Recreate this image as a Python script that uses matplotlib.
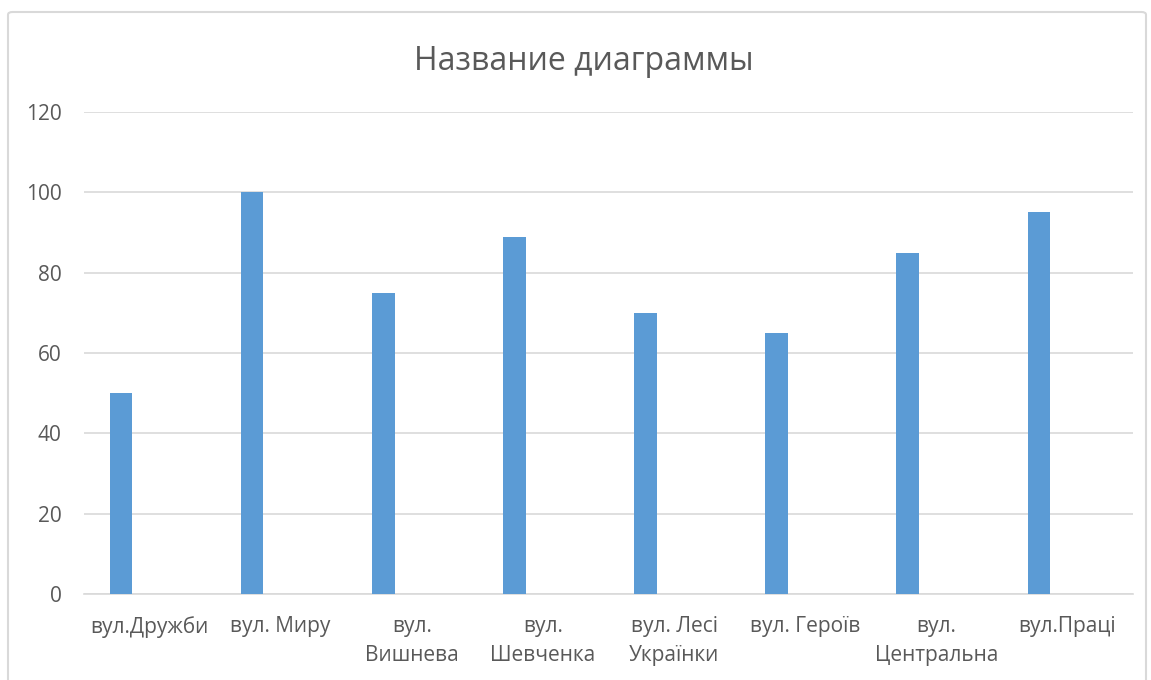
import matplotlib.pyplot as plt
import numpy as np
from matplotlib.patches import FancyBboxPatch

streets = ['вул.Дружби', 'вул. Миру', 'вул.\nВишнева', 'вул.\nШевченка',
           'вул. Лесі\nУкраїнки', 'вул. Героїв', 'вул.\nЦентральна', 'вул.Праці']
values = [50, 100, 75, 89, 70, 65, 85, 95]
y_ticks = [0, 20, 40, 60, 80, 100, 120]

text_color = '#595959'
grid_color = '#d9d9d9'
bar_color = '#5b9bd5'

plt.rcParams['font.family'] = ['Open Sans', 'DejaVu Sans']

fig = plt.figure(figsize=(11.51, 6.80), dpi=100)
fig.patch.set_facecolor('white')

# chart border (Excel style frame)
frame = FancyBboxPatch((8 / 1151, -0.05), 1138 / 1151, 1 - 12 / 680 + 0.05,
                       boxstyle='round,pad=0,rounding_size=0.004',
                       transform=fig.transFigure, facecolor='none',
                       edgecolor=grid_color, linewidth=1.5)
fig.patches.append(frame)

ax = fig.add_axes([84 / 1151, 1 - 594 / 680, (1133 - 84) / 1151, (594 - 112) / 680])

x = np.arange(len(streets))
ax.bar(x - 0.218, values, width=0.172, color=bar_color, zorder=3)

ax.set_xlim(-0.5, len(streets) - 0.5)
ax.set_ylim(0, 120)
ax.set_yticks(y_ticks)
ax.set_xticks(x)
ax.set_xticklabels(streets, linespacing=1.5)
ax.tick_params(axis='both', length=0, labelsize=15, colors=text_color)
ax.tick_params(axis='x', pad=16)
ax.tick_params(axis='y', pad=16)

ax.grid(axis='y', color=grid_color, linewidth=1.2, zorder=0)
for s in ['top', 'right', 'left']:
    ax.spines[s].set_visible(False)
ax.spines['bottom'].set_color(grid_color)
ax.spines['bottom'].set_linewidth(1.2)

fig.text(584 / 1151, 1 - 61 / 680, 'Название диаграммы', ha='center', va='center',
         fontsize=23, color=text_color)

fig.savefig('out.png', dpi=100)
